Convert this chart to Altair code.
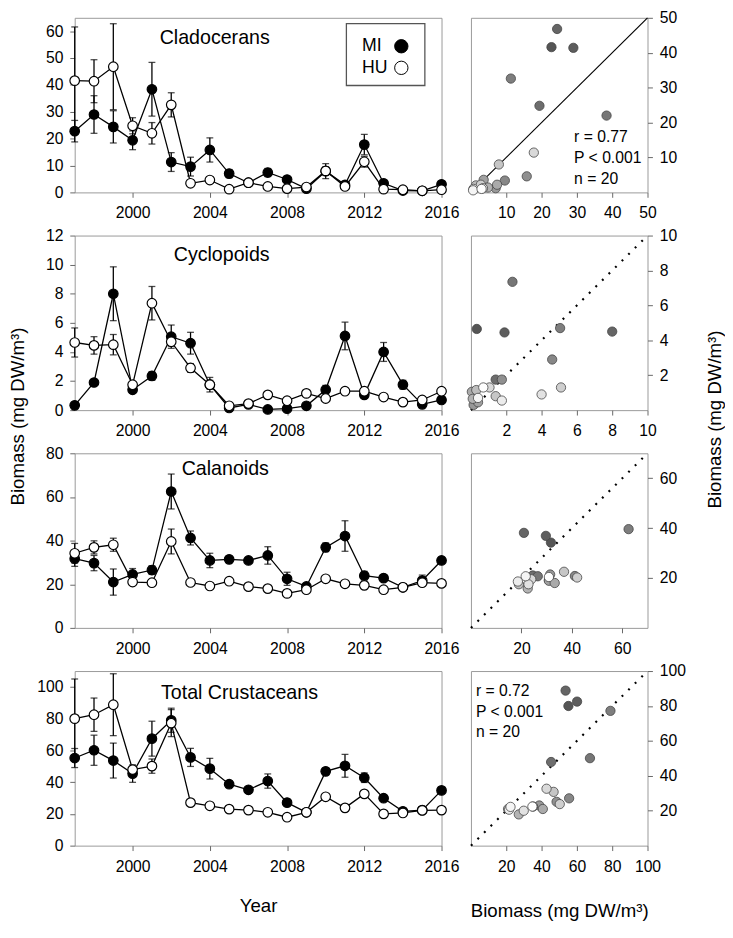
import altair as alt
import pandas as pd

FONT = "Liberation Sans"
YEARS = list(range(1997, 2017))

# ---- Cladocerans ----
clad_mi = [22.8, 29.0, 24.4, 19.4, 38.4, 11.3, 9.6, 15.8, 7.0, 3.6, 7.4, 4.8, 1.4, 7.9, 2.8, 17.8, 3.4, 0.7, 0.6, 3.0]
clad_hu = [41.6, 41.4, 46.8, 24.8, 22.0, 32.6, 3.4, 4.6, 1.2, 3.6, 2.2, 1.4, 2.0, 8.0, 2.2, 11.4, 1.2, 1.0, 0.6, 1.0]
clad_mi_se = [4.0, 7.0, 6.0, 3.5, 10.0, 3.5, 3.5, 4.5, 1.5, 0.8, 1.5, 1.0, 0.5, 2.8, 0.8, 3.8, 1.0, 0.3, 0.3, 0.5]
clad_hu_se = [20.0, 8.0, 16.0, 3.0, 4.0, 4.5, 1.0, 1.0, 0.5, 0.5, 0.5, 0.5, 0.5, 1.5, 0.5, 2.0, 0.5, 0.3, 0.3, 0.3]

# ---- Cyclopoids ----
cycl_mi = [0.33, 1.9, 8.0, 1.4, 2.35, 5.05, 4.6, 1.75, 0.15, 0.4, 0.05, 0.1, 0.3, 1.4, 5.1, 1.05, 4.0, 1.75, 0.4, 0.7]
cycl_hu = [4.65, 4.45, 4.5, 1.75, 7.35, 4.7, 2.9, 1.75, 0.3, 0.45, 1.05, 0.65, 1.15, 0.8, 1.3, 1.3, 0.9, 0.55, 0.7, 1.3]
cycl_mi_se = [0.1, 0.15, 1.85, 0.15, 0.3, 0.8, 0.75, 0.3, 0.05, 0.05, 0.05, 0.05, 0.1, 0.3, 0.95, 0.2, 0.65, 0.3, 0.1, 0.15]
cycl_hu_se = [1.0, 0.6, 0.7, 0.2, 1.15, 0.3, 0.3, 0.5, 0.1, 0.1, 0.15, 0.1, 0.15, 0.1, 0.2, 0.2, 0.1, 0.1, 0.1, 0.15]

# ---- Calanoids ----
cala_mi = [31.7, 29.7, 21.0, 24.5, 26.5, 62.5, 41.2, 30.9, 31.4, 30.9, 33.2, 22.5, 19.0, 36.9, 42.1, 23.9, 22.8, 18.6, 21.7, 30.9]
cala_hu = [34.2, 36.9, 38.1, 21.0, 20.7, 39.6, 20.8, 19.2, 21.4, 18.9, 18.0, 15.8, 17.5, 22.5, 20.2, 19.5, 17.5, 18.6, 20.7, 20.4]
cala_mi_se = [3.5, 3.5, 6.0, 2.7, 2.0, 8.0, 3.2, 3.3, 1.0, 1.0, 4.0, 3.0, 1.0, 2.0, 7.0, 2.0, 1.5, 1.0, 2.5, 1.5]
cala_hu_se = [4.5, 3.0, 3.0, 1.0, 1.0, 5.7, 1.0, 1.0, 1.0, 1.0, 1.0, 1.0, 1.0, 1.0, 1.0, 1.0, 1.0, 1.0, 1.0, 1.0]

# ---- Total Crustaceans ----
tot_mi = [55.2, 60.1, 53.6, 45.4, 67.4, 79.0, 55.6, 48.5, 38.7, 35.2, 40.7, 27.1, 21.0, 46.8, 50.3, 42.8, 29.9, 21.6, 22.4, 34.8]
tot_hu = [80.0, 82.5, 88.8, 47.9, 50.1, 77.2, 27.1, 25.1, 23.0, 22.4, 21.0, 17.9, 21.0, 30.8, 23.8, 32.6, 20.0, 20.6, 22.2, 22.4]
tot_mi_se = [6.0, 9.5, 11.0, 5.5, 11.0, 7.6, 5.7, 6.5, 2.0, 2.0, 4.5, 2.0, 1.0, 2.0, 7.2, 3.0, 2.0, 1.0, 1.5, 2.0]
tot_hu_se = [25.0, 10.5, 19.5, 2.0, 4.5, 8.5, 1.5, 1.5, 1.0, 1.0, 1.0, 1.0, 1.0, 1.5, 1.0, 1.5, 1.0, 1.0, 1.0, 1.0]

SITES = ["MI", "HU"]
SITE_FILL = ["black", "white"]
YEAR_TICKS = [2000, 2004, 2008, 2012, 2016]
BIOMASS = "Biomass (mg DW/m\u00b3)"

# layout constants (pixels)
W_LEFT, W_RIGHT, H = 374, 180, 178
LEG_BOX = (277, 357, 6, 69)      # x, x2, y, y2 inside the first panel
LEG_ROWS = [29, 51]
LEG_LABEL_X, LEG_SYMBOL_X = 293, 333

panels = [
    dict(name="Cladocerans", mi=clad_mi, hu=clad_hu, mi_se=clad_mi_se, hu_se=clad_hu_se,
         ymax=65, yticks=[0, 10, 20, 30, 40, 50, 60], smax=50, sticks=[10, 20, 30, 40, 50],
         lab=(2001.4, 57.5), solid=True, stats="r = 0.77\nP < 0.001\nn = 20", stats_pos=(29.2, 15.7)),
    dict(name="Cyclopoids", mi=cycl_mi, hu=cycl_hu, mi_se=cycl_mi_se, hu_se=cycl_hu_se,
         ymax=12, yticks=[0, 2, 4, 6, 8, 10, 12], smax=10, sticks=[2, 4, 6, 8, 10],
         lab=(2002.13, 10.67), solid=False, stats=None, stats_pos=None),
    dict(name="Calanoids", mi=cala_mi, hu=cala_hu, mi_se=cala_mi_se, hu_se=cala_hu_se,
         ymax=80, yticks=[0, 20, 40, 60, 80], smax=70, sticks=[20, 40, 60],
         lab=(2002.54, 72.8), solid=False, stats=None, stats_pos=None),
    dict(name="Total Crustaceans", mi=tot_mi, hu=tot_hu, mi_se=tot_mi_se, hu_se=tot_hu_se,
         ymax=110, yticks=[0, 20, 40, 60, 80, 100], smax=100, sticks=[20, 40, 60, 80, 100],
         lab=(2001.47, 96.3), solid=False, stats="r = 0.72\nP < 0.001\nn = 20", stats_pos=(2.8, 88.5)),
]


def long_df(p):
    rows = []
    for site, vals, ses in (("MI", p["mi"], p["mi_se"]), ("HU", p["hu"], p["hu_se"])):
        for yr, v, s in zip(YEARS, vals, ses):
            rows.append({"year": yr, "site": site, "value": v,
                         "lo": max(v - s, 0), "hi": v + s})
    return pd.DataFrame(rows)


def legend_layers():
    box = alt.Chart(pd.DataFrame({"k": [0]})).mark_rect(
        fill="white", stroke="#555555", strokeWidth=1.3).encode(
        x=alt.value(LEG_BOX[0]), x2=alt.value(LEG_BOX[1]),
        y=alt.value(LEG_BOX[2]), y2=alt.value(LEG_BOX[3]))
    out = [box]
    for site, fill, ry in zip(SITES, SITE_FILL, LEG_ROWS):
        d = pd.DataFrame({"site": [site]})
        out.append(alt.Chart(d).mark_text(align="left", baseline="middle", fontSize=18,
                                          font=FONT, color="black").encode(
            x=alt.value(LEG_LABEL_X), y=alt.value(ry), text="site:N"))
        out.append(alt.Chart(d).mark_circle(size=185, fill=fill, stroke="black",
                                            strokeWidth=1, opacity=1).encode(
            x=alt.value(LEG_SYMBOL_X), y=alt.value(ry)))
    return out


def left_panel(i, p):
    df = long_df(p)
    last = i == len(panels) - 1
    xaxis = alt.Axis(values=YEAR_TICKS, tickCount=len(YEAR_TICKS), format="d",
                     labelOverlap=False, labelFlush=False,
                     title="Year" if last else None,
                     titleY=61, titleBaseline="middle")
    if i == 1:
        yaxis = alt.Axis(values=p["yticks"], tickCount=len(p["yticks"]),
                         labelOverlap=False, labelFlush=False,
                         title=BIOMASS, titleAngle=270,
                         titleX=-58, titleY=184, titleAlign="center",
                         titleBaseline="middle")
    else:
        yaxis = alt.Axis(values=p["yticks"], tickCount=len(p["yticks"]),
                         labelOverlap=False, labelFlush=False, title=None)
    xs = alt.Scale(domain=[1997, 2016], nice=False, zero=False)
    ys = alt.Scale(domain=[0, p["ymax"]], nice=False)

    def X(f="year"):
        return alt.X(f + ":Q", scale=xs, axis=xaxis)

    def Y(f):
        return alt.Y(f + ":Q", scale=ys, axis=yaxis)

    base = alt.Chart(df)
    stem = base.mark_rule(color="black", strokeWidth=1.3).encode(
        x=X(), y=Y("lo"), y2="hi")
    cap_lo = base.mark_tick(color="black", size=7, thickness=1.3,
                            orient="horizontal").encode(x=X(), y=Y("lo"))
    cap_hi = base.mark_tick(color="black", size=7, thickness=1.3,
                            orient="horizontal").encode(x=X(), y=Y("hi"))
    line = base.mark_line(color="black", strokeWidth=1.3).encode(
        x=X(), y=Y("value"), detail="site:N")
    pts = base.mark_circle(size=95, stroke="black", strokeWidth=1.2, opacity=1).encode(
        x=X(), y=Y("value"),
        fill=alt.Fill("site:N", scale=alt.Scale(domain=SITES, range=SITE_FILL),
                      legend=None))
    lab = alt.Chart(pd.DataFrame({"t": [p["name"]]})).mark_text(
        align="left", baseline="middle", fontSize=20, font=FONT, color="black").encode(
        x=alt.datum(p["lab"][0]), y=alt.datum(p["lab"][1]), text="t:N")
    layers = [stem, cap_lo, cap_hi, line, pts, lab]
    if i == 0:
        layers += legend_layers()
    return alt.layer(*layers).properties(width=W_LEFT, height=H)


def right_panel(i, p):
    last = i == len(panels) - 1
    sdf = pd.DataFrame({"year": YEARS, "mi": p["mi"], "hu": p["hu"]})
    ddf = pd.DataFrame({"v": [0, p["smax"]]})
    sc = alt.Scale(domain=[0, p["smax"]], nice=False)
    xaxis = alt.Axis(values=p["sticks"], tickCount=len(p["sticks"]),
                     labelOverlap=False, labelFlush=False,
                     title=BIOMASS if last else None,
                     titleY=66, titleBaseline="middle")
    if i == 1:
        yaxis = alt.Axis(values=p["sticks"], tickCount=len(p["sticks"]), orient="right",
                         labelOverlap=False, labelFlush=False, title=BIOMASS,
                         titleAngle=270, titleX=68, titleY=187, titleAlign="center",
                         titleBaseline="middle")
    else:
        yaxis = alt.Axis(values=p["sticks"], tickCount=len(p["sticks"]), orient="right",
                         labelOverlap=False, labelFlush=False, title=None)
    if p["solid"]:
        diag = alt.Chart(ddf).mark_line(color="black", strokeWidth=1.2)
    else:
        diag = alt.Chart(ddf).mark_line(color="black", strokeWidth=2.2,
                                        strokeDash=[2, 7.4])
    diag = diag.encode(x=alt.X("v:Q", scale=sc, axis=xaxis),
                       y=alt.Y("v:Q", scale=sc, axis=yaxis))
    pts = alt.Chart(sdf).mark_circle(size=90, stroke="#444444", strokeWidth=0.8,
                                     opacity=1).encode(
        x=alt.X("mi:Q", scale=sc, axis=xaxis),
        y=alt.Y("hu:Q", scale=sc, axis=yaxis),
        fill=alt.Fill("year:Q", scale=alt.Scale(domain=[1997, 2016],
                                                range=["#555555", "#ffffff"]),
                      legend=None))
    layers = [diag, pts]
    if p["stats"]:
        st = alt.Chart(pd.DataFrame({"t": [p["stats"]]})).mark_text(
            align="left", baseline="middle", fontSize=16, font=FONT, color="black",
            lineBreak="\n", lineHeight=21).encode(
            x=alt.datum(p["stats_pos"][0]), y=alt.datum(p["stats_pos"][1]), text="t:N")
        layers.append(st)
    return alt.layer(*layers).properties(width=W_RIGHT, height=H)


charts = []
for i, p in enumerate(panels):
    charts.append(left_panel(i, p))
    charts.append(right_panel(i, p))

chart = alt.ConcatChart(concat=charts, columns=2, spacing={"row": 44, "column": 30},
                        bounds="flush").resolve_scale(fill="independent").properties(
    padding={"top": -8, "left": 0, "right": 0, "bottom": 0}
).configure_view(stroke="#999999", strokeWidth=1).configure_axis(
    grid=False, domain=False, labelFont=FONT, labelFontSize=16, labelColor="black",
    tickColor="#666666", tickSize=5, labelOverlap=False, labelFlush=False,
    titleFont=FONT, titleFontSize=19, titleFontWeight="normal", titleColor="black"
).configure_axisX(labelPadding=8).configure_axisY(labelPadding=7)

chart.save("out.html", embed_options={"renderer": "svg", "actions": False})
